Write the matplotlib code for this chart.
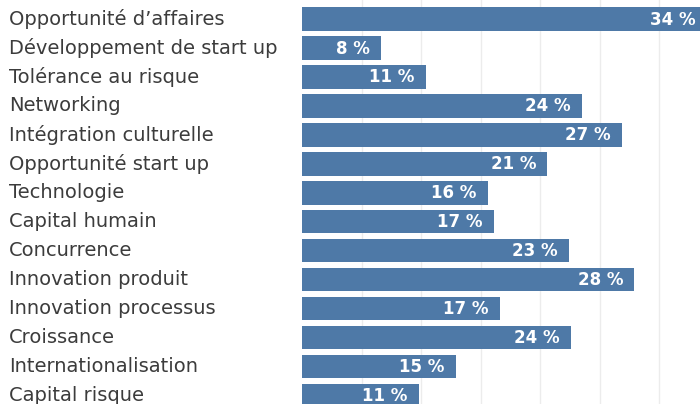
import matplotlib
matplotlib.use("Agg")
import matplotlib.pyplot as plt
import matplotlib.transforms as mtransforms

categories = [
    "Opportunité d’affaires",
    "Développement de start up",
    "Tolérance au risque",
    "Networking",
    "Intégration culturelle",
    "Opportunité start up",
    "Technologie",
    "Capital humain",
    "Concurrence",
    "Innovation produit",
    "Innovation processus",
    "Croissance",
    "Internationalisation",
    "Capital risque",
]
# bar lengths as drawn in the picture (percent units)
bar_values = [34.0, 6.6, 10.4, 23.5, 26.9, 20.6, 15.6, 16.1, 22.4, 27.9, 16.6, 22.6, 12.9, 9.8]
# printed labels
pct_labels = [34, 8, 11, 24, 27, 21, 16, 17, 23, 28, 17, 24, 15, 11]

W, H = 700, 404
fig = plt.figure(figsize=(W / 100, H / 100), dpi=100)
ax = fig.add_axes([302 / W, 0, 1 - 302 / W, 1])

px_per_unit = 11.9
ax.set_xlim(0, (W - 302) / px_per_unit)
step = 28.96
top_c = 19.0
ax.set_ylim((H - top_c) / step, -top_c / step)

for g in [5, 10, 15, 20, 25, 30]:
    ax.axvline(g, color="#ececec", lw=1, zorder=0)

pos = list(range(len(categories)))
ax.barh(pos, bar_values, height=23.5 / step, color="#4E79A7", zorder=2)

for p, v, lab in zip(pos, bar_values, pct_labels):
    ax.text(v - 11 / px_per_unit, p + 0.02, f"{lab} %", ha="right", va="center",
            color="white", fontsize=12, fontweight="bold", zorder=3)

trans = mtransforms.blended_transform_factory(fig.transFigure, ax.transData)
for p, c in zip(pos, categories):
    ax.text(9 / W, p, c, transform=trans, ha="left", va="center",
            color="#3c3c3c", fontsize=14, clip_on=False)

ax.axis("off")
fig.savefig("out.png", dpi=100)
